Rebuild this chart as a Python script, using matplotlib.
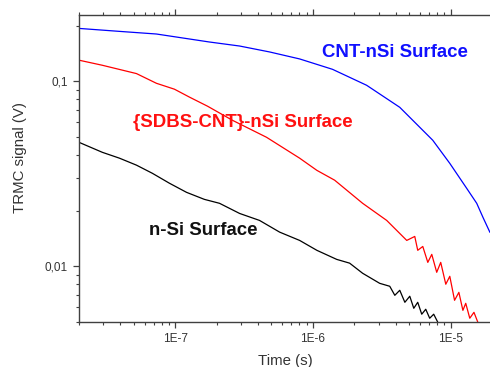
import math
import matplotlib
matplotlib.use("Agg")
import matplotlib.pyplot as plt
from matplotlib.ticker import LogLocator, FuncFormatter, NullFormatter

# values (time in s, signal in V)
t_cnt = [2.0e-8, 3.94e-8, 7.31e-8, 1.77e-7, 2.94e-7, 4.85e-7, 8.02e-7, 1.39e-6,
         2.46e-6, 4.28e-6, 7.43e-6, 9.88e-6, 1.31e-5, 1.55e-5, 1.72e-5, 1.93e-5]
v_cnt = [0.193, 0.186, 0.180, 0.163, 0.155, 0.144, 0.132, 0.116,
         0.0951, 0.0723, 0.0480, 0.0360, 0.0264, 0.0219, 0.0184, 0.0153]

t_sdbs = [2.0e-8, 2.96e-8, 5.24e-8, 7.31e-8, 9.88e-8, 1.27e-7, 1.72e-7, 2.61e-7,
          4.61e-7, 8.02e-7, 1.07e-6, 1.44e-6, 2.30e-6, 3.44e-6, 4.81e-6, 5.50e-6,
          5.78e-6, 6.29e-6, 6.84e-6, 7.31e-6, 7.94e-6, 8.49e-6, 9.24e-6, 9.88e-6,
          1.07e-5, 1.15e-5, 1.23e-5, 1.29e-5, 1.38e-5, 1.48e-5, 1.58e-5]
v_sdbs = [0.130, 0.122, 0.110, 0.0975, 0.0906, 0.0821, 0.0733, 0.0615,
          0.0498, 0.0384, 0.0330, 0.0292, 0.0219, 0.0177, 0.0138, 0.0145,
          0.0122, 0.0128, 0.0105, 0.0116, 0.00928, 0.0105, 0.0080, 0.00883,
          0.00655, 0.00723, 0.00578, 0.00631, 0.00524, 0.00564, 0.00498]

t_nsi = [2.0e-8, 2.96e-8, 3.94e-8, 5.24e-8, 6.84e-8, 9.10e-8, 1.21e-7, 1.63e-7,
         2.10e-7, 2.94e-7, 4.10e-7, 5.74e-7, 8.02e-7, 1.07e-6, 1.49e-6, 1.85e-6,
         2.30e-6, 3.06e-6, 3.62e-6, 3.94e-6, 4.28e-6, 4.66e-6, 5.06e-6, 5.41e-6,
         5.78e-6, 6.18e-6, 6.61e-6, 7.06e-6, 7.55e-6, 8.09e-6]
v_nsi = [0.0468, 0.0413, 0.0384, 0.0352, 0.0318, 0.0281, 0.0251, 0.0230,
         0.0219, 0.0193, 0.0177, 0.0153, 0.0138, 0.0122, 0.0109, 0.0104,
         0.00917, 0.00809, 0.00780, 0.00697, 0.00742, 0.00639, 0.00689, 0.00593,
         0.00639, 0.00551, 0.00586, 0.00524, 0.00551, 0.00498]

labels = ["CNT-nSi Surface", "{SDBS-CNT}-nSi Surface", "n-Si Surface"]

plt.rcParams["font.family"] = ["Liberation Sans", "DejaVu Sans"]

fig = plt.figure(figsize=(4.9, 3.67), dpi=100)
ax = fig.add_axes([0.161, 0.1226, 0.843, 0.8365])

ax.plot(t_cnt, v_cnt, color="#0000ff", lw=0.9)
ax.plot(t_sdbs, v_sdbs, color="#ff0000", lw=0.9)
ax.plot(t_nsi, v_nsi, color="#000000", lw=0.9)

ax.set_xscale("log")
ax.set_yscale("log")
ax.set_xlim(2e-8, 2e-5)
ax.set_ylim(0.005, 0.228)

ax.text(3.94e-6, 0.1435, labels[0], color="#1010ff", fontsize=13.4, fontweight="bold",
        ha="center", va="center")
ax.text(3.11e-7, 0.0600, labels[1], color="#ff1010", fontsize=13.4, fontweight="bold",
        ha="center", va="center")
ax.text(1.59e-7, 0.0157, labels[2], color="#111111", fontsize=13.4, fontweight="bold",
        ha="center", va="center")

ax.xaxis.set_major_locator(LogLocator(base=10))
ax.xaxis.set_minor_locator(LogLocator(base=10, subs=range(2, 10)))
ax.xaxis.set_major_formatter(FuncFormatter(lambda v, p: "1E%d" % round(math.log10(v))))
ax.xaxis.set_minor_formatter(NullFormatter())
ax.yaxis.set_major_locator(LogLocator(base=10))
ax.yaxis.set_minor_locator(LogLocator(base=10, subs=range(2, 10)))
ax.yaxis.set_major_formatter(FuncFormatter(lambda v, p: ("%g" % v).replace(".", ",")))
ax.yaxis.set_minor_formatter(NullFormatter())

gray = "#404040"
for s in ax.spines.values():
    s.set_color(gray)
    s.set_linewidth(1.0)
ax.spines["right"].set_visible(False)
ax.tick_params(which="both", direction="out", top=True, right=False, colors=gray,
               labelsize=8.5, labelcolor="#333333")
ax.tick_params(which="major", length=4.5, width=0.9)
ax.tick_params(which="minor", length=2.2, width=0.8)

ax.set_xlabel("Time (s)", fontsize=10.8, color="#333333", labelpad=6.5)
ax.set_ylabel("TRMC signal (V)", fontsize=10.8, color="#333333")
ax.yaxis.set_label_coords(-0.126, 0.537)

fig.savefig("out.png", dpi=100)
